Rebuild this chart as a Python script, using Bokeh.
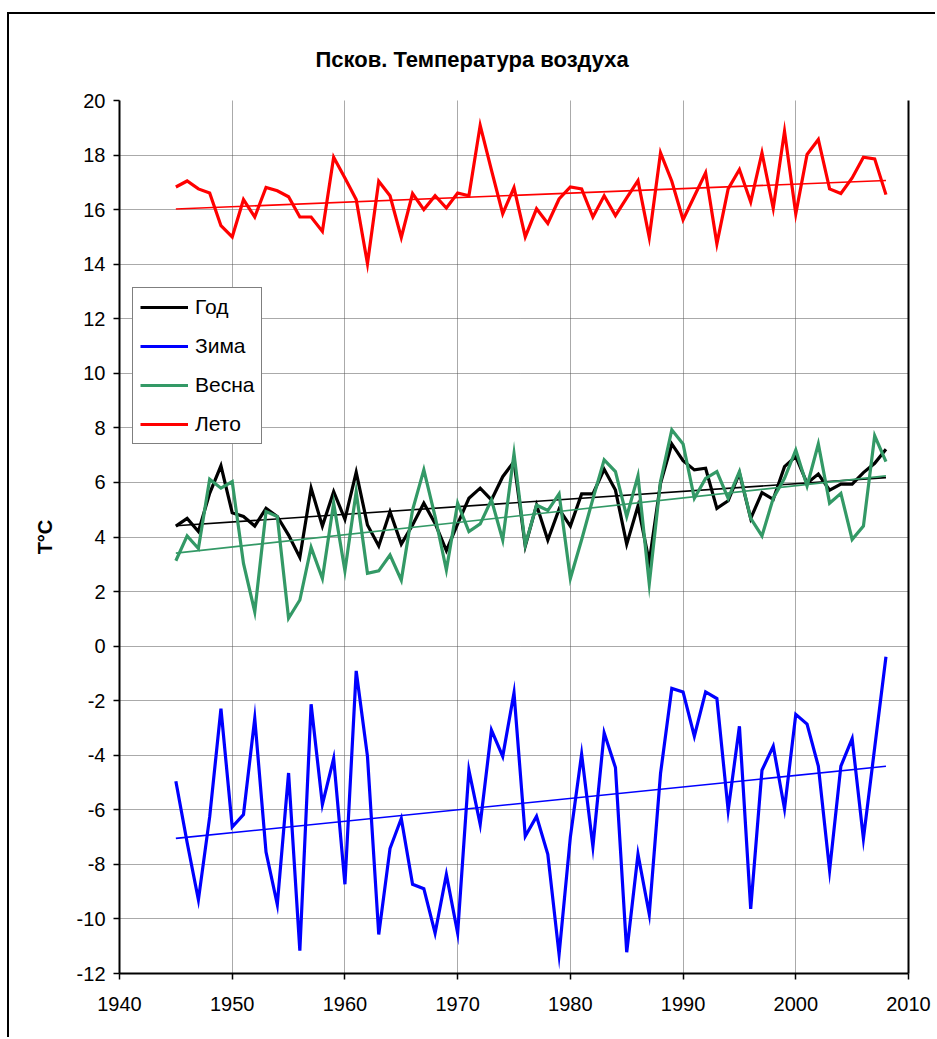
import numpy as np
from bokeh.plotting import figure
from bokeh.models import (FixedTicker, LinearAxis, Legend, LegendItem, Range1d, PrintfTickFormatter)
from bokeh.embed import file_html
from bokeh.resources import INLINE

years = list(range(1945, 2009))

god = [4.40, 4.68, 4.20, 5.60, 6.61, 4.89, 4.75, 4.40, 5.05, 4.75,
       4.07, 3.25, 5.79, 4.40, 5.66, 4.65, 6.37, 4.44, 3.67, 4.93,
       3.74, 4.44, 5.24, 4.50, 3.50, 4.48, 5.42, 5.79, 5.36, 6.21,
       6.76, 3.67, 5.17, 3.89, 5.02, 4.40, 5.58, 5.58, 6.48, 5.72,
       3.74, 5.14, 3.09, 5.97, 7.41, 6.80, 6.46, 6.52, 5.05, 5.33,
       6.34, 4.68, 5.63, 5.38, 6.58, 6.95, 5.97, 6.31, 5.72, 5.94,
       5.94, 6.36, 6.70, 7.22]

zima = [-4.95, -7.20, -9.30, -6.26, -2.29, -6.63, -6.17, -2.65, -7.55, -9.47,
        -4.65, -11.16, -2.13, -5.80, -4.12, -8.73, -0.91, -4.04, -10.57, -7.42,
        -6.32, -8.73, -8.89, -10.52, -8.37, -10.52, -4.55, -6.53, -3.08, -4.04,
        -1.71, -6.97, -6.24, -7.63, -11.30, -7.00, -3.96, -7.34, -3.18, -4.45,
        -11.22, -7.63, -9.83, -4.67, -1.55, -1.68, -3.30, -1.68, -1.92, -6.02,
        -2.94, -9.63, -4.55, -3.67, -5.96, -2.50, -2.86, -4.40, -8.22, -4.40,
        -3.39, -7.06, -3.72, -0.39]

vesna = [3.13, 4.04, 3.58, 6.12, 5.79, 6.03, 3.03, 1.26, 4.93, 4.75,
         1.02, 1.69, 3.62, 2.48, 5.24, 2.76, 5.66, 2.67, 2.76, 3.34,
         2.42, 4.99, 6.46, 4.75, 2.79, 5.24, 4.20, 4.48, 5.36, 3.89,
         7.05, 3.71, 5.17, 4.97, 5.58, 2.48, 3.90, 5.40, 6.83, 6.40,
         4.75, 6.24, 2.28, 6.03, 7.93, 7.41, 5.42, 6.15, 6.40, 5.42,
         6.40, 4.68, 4.04, 5.42, 6.15, 7.19, 5.87, 7.41, 5.24, 5.60,
         3.91, 4.40, 7.71, 6.76]

leto = [16.83, 17.05, 16.76, 16.61, 15.41, 15.00, 16.37, 15.73, 16.81, 16.69,
        16.47, 15.73, 15.73, 15.20, 17.92, 17.16, 16.37, 14.02, 17.04, 16.51,
        14.98, 16.59, 16.00, 16.51, 16.06, 16.61, 16.51, 19.09, 17.45, 15.85,
        16.81, 15.00, 16.03, 15.49, 16.39, 16.83, 16.76, 15.73, 16.51, 15.78,
        16.43, 17.06, 14.98, 18.08, 17.04, 15.63, 16.49, 17.35, 14.75, 16.76,
        17.47, 16.28, 18.08, 16.05, 18.87, 15.85, 18.02, 18.57, 16.76, 16.59,
        17.16, 17.92, 17.86, 16.55]

series_names = ["Год", "Зима", "Весна", "Лето"]
series_colors = ["#000000", "#0000FF", "#339966", "#FF0000"]
x_ticks = [1940, 1950, 1960, 1970, 1980, 1990, 2000, 2010]
y_ticks = list(range(-12, 21, 2))

FONT = "Liberation Sans"

p = figure(width=928, height=1025, output_backend="svg", toolbar_location=None,
           x_range=Range1d(1940, 2010), y_range=Range1d(-12, 20),
           min_border_left=110, min_border_right=29, min_border_top=86, min_border_bottom=66,
           background_fill_color="white", border_fill_color="white")
p.outline_line_color = None
p.styles = {"margin-left": "7px", "margin-top": "12px",
            "border-left": "2px solid black", "border-top": "2px solid black"}

p.title.text = "Псков. Температура воздуха"
p.title.text_font = FONT
p.title.text_font_size = "22px"
p.title.text_font_style = "bold"
p.title.text_color = "black"
p.title.align = "left"
p.title.offset = 196
p.title.standoff = 58

for ax in (p.xaxis[0], p.yaxis[0]):
    ax.axis_line_color = "black"
    ax.axis_line_width = 2
    ax.major_tick_line_color = "black"
    ax.major_tick_line_width = 1.5
    ax.major_tick_out = 6
    ax.major_tick_in = 0
    ax.minor_tick_line_color = None
    ax.major_label_text_font = FONT
    ax.major_label_text_font_size = "20px"
    ax.major_label_text_color = "black"
    ax.formatter = PrintfTickFormatter(format="%d")

p.xaxis[0].ticker = FixedTicker(ticks=x_ticks)
p.yaxis[0].ticker = FixedTicker(ticks=y_ticks)
p.xaxis[0].major_label_standoff = 17
p.yaxis[0].major_label_standoff = 8
p.yaxis[0].axis_label = "T°C"
p.yaxis[0].axis_label_text_font = FONT
p.yaxis[0].axis_label_text_font_size = "20px"
p.yaxis[0].axis_label_text_font_style = "bold"
p.yaxis[0].axis_label_text_color = "black"
p.yaxis[0].axis_label_standoff = 18

right_axis = LinearAxis(ticker=FixedTicker(ticks=[]), axis_line_color="black", axis_line_width=2,
                        major_tick_line_color=None, minor_tick_line_color=None,
                        major_label_text_font_size="0px")
p.add_layout(right_axis, "right")

p.xgrid.ticker = FixedTicker(ticks=x_ticks)
p.ygrid.ticker = FixedTicker(ticks=y_ticks)
for g in (p.xgrid[0], p.ygrid[0]):
    g.grid_line_color = "#555555"
    g.grid_line_dash = "1 1"
    g.grid_line_width = 1

xs = np.array(years, dtype=float)
renderers = []
for name, vals, col in zip(series_names, [god, zima, vesna, leto], series_colors):
    r = p.line(years, vals, line_color=col, line_width=3.2, line_join="miter")
    renderers.append(r)
    k, b = np.polyfit(xs, np.array(vals), 1)
    ends = [years[0], years[-1]]
    p.line(ends, [k * e + b for e in ends], line_color=col, line_width=1.6)

legend = Legend(items=[LegendItem(label=n, renderers=[r]) for n, r in zip(series_names, renderers)],
                location=(13, 529), orientation="vertical",
                label_text_font=FONT, label_text_font_size="21px", label_text_color="black",
                glyph_width=48, glyph_height=20, label_height=20, label_standoff=7,
                spacing=15, padding=7, margin=0,
                border_line_color="black", border_line_width=1.5,
                background_fill_color="white", background_fill_alpha=1)
p.add_layout(legend, "center")

open("out.html", "w").write(file_html(p, INLINE))
